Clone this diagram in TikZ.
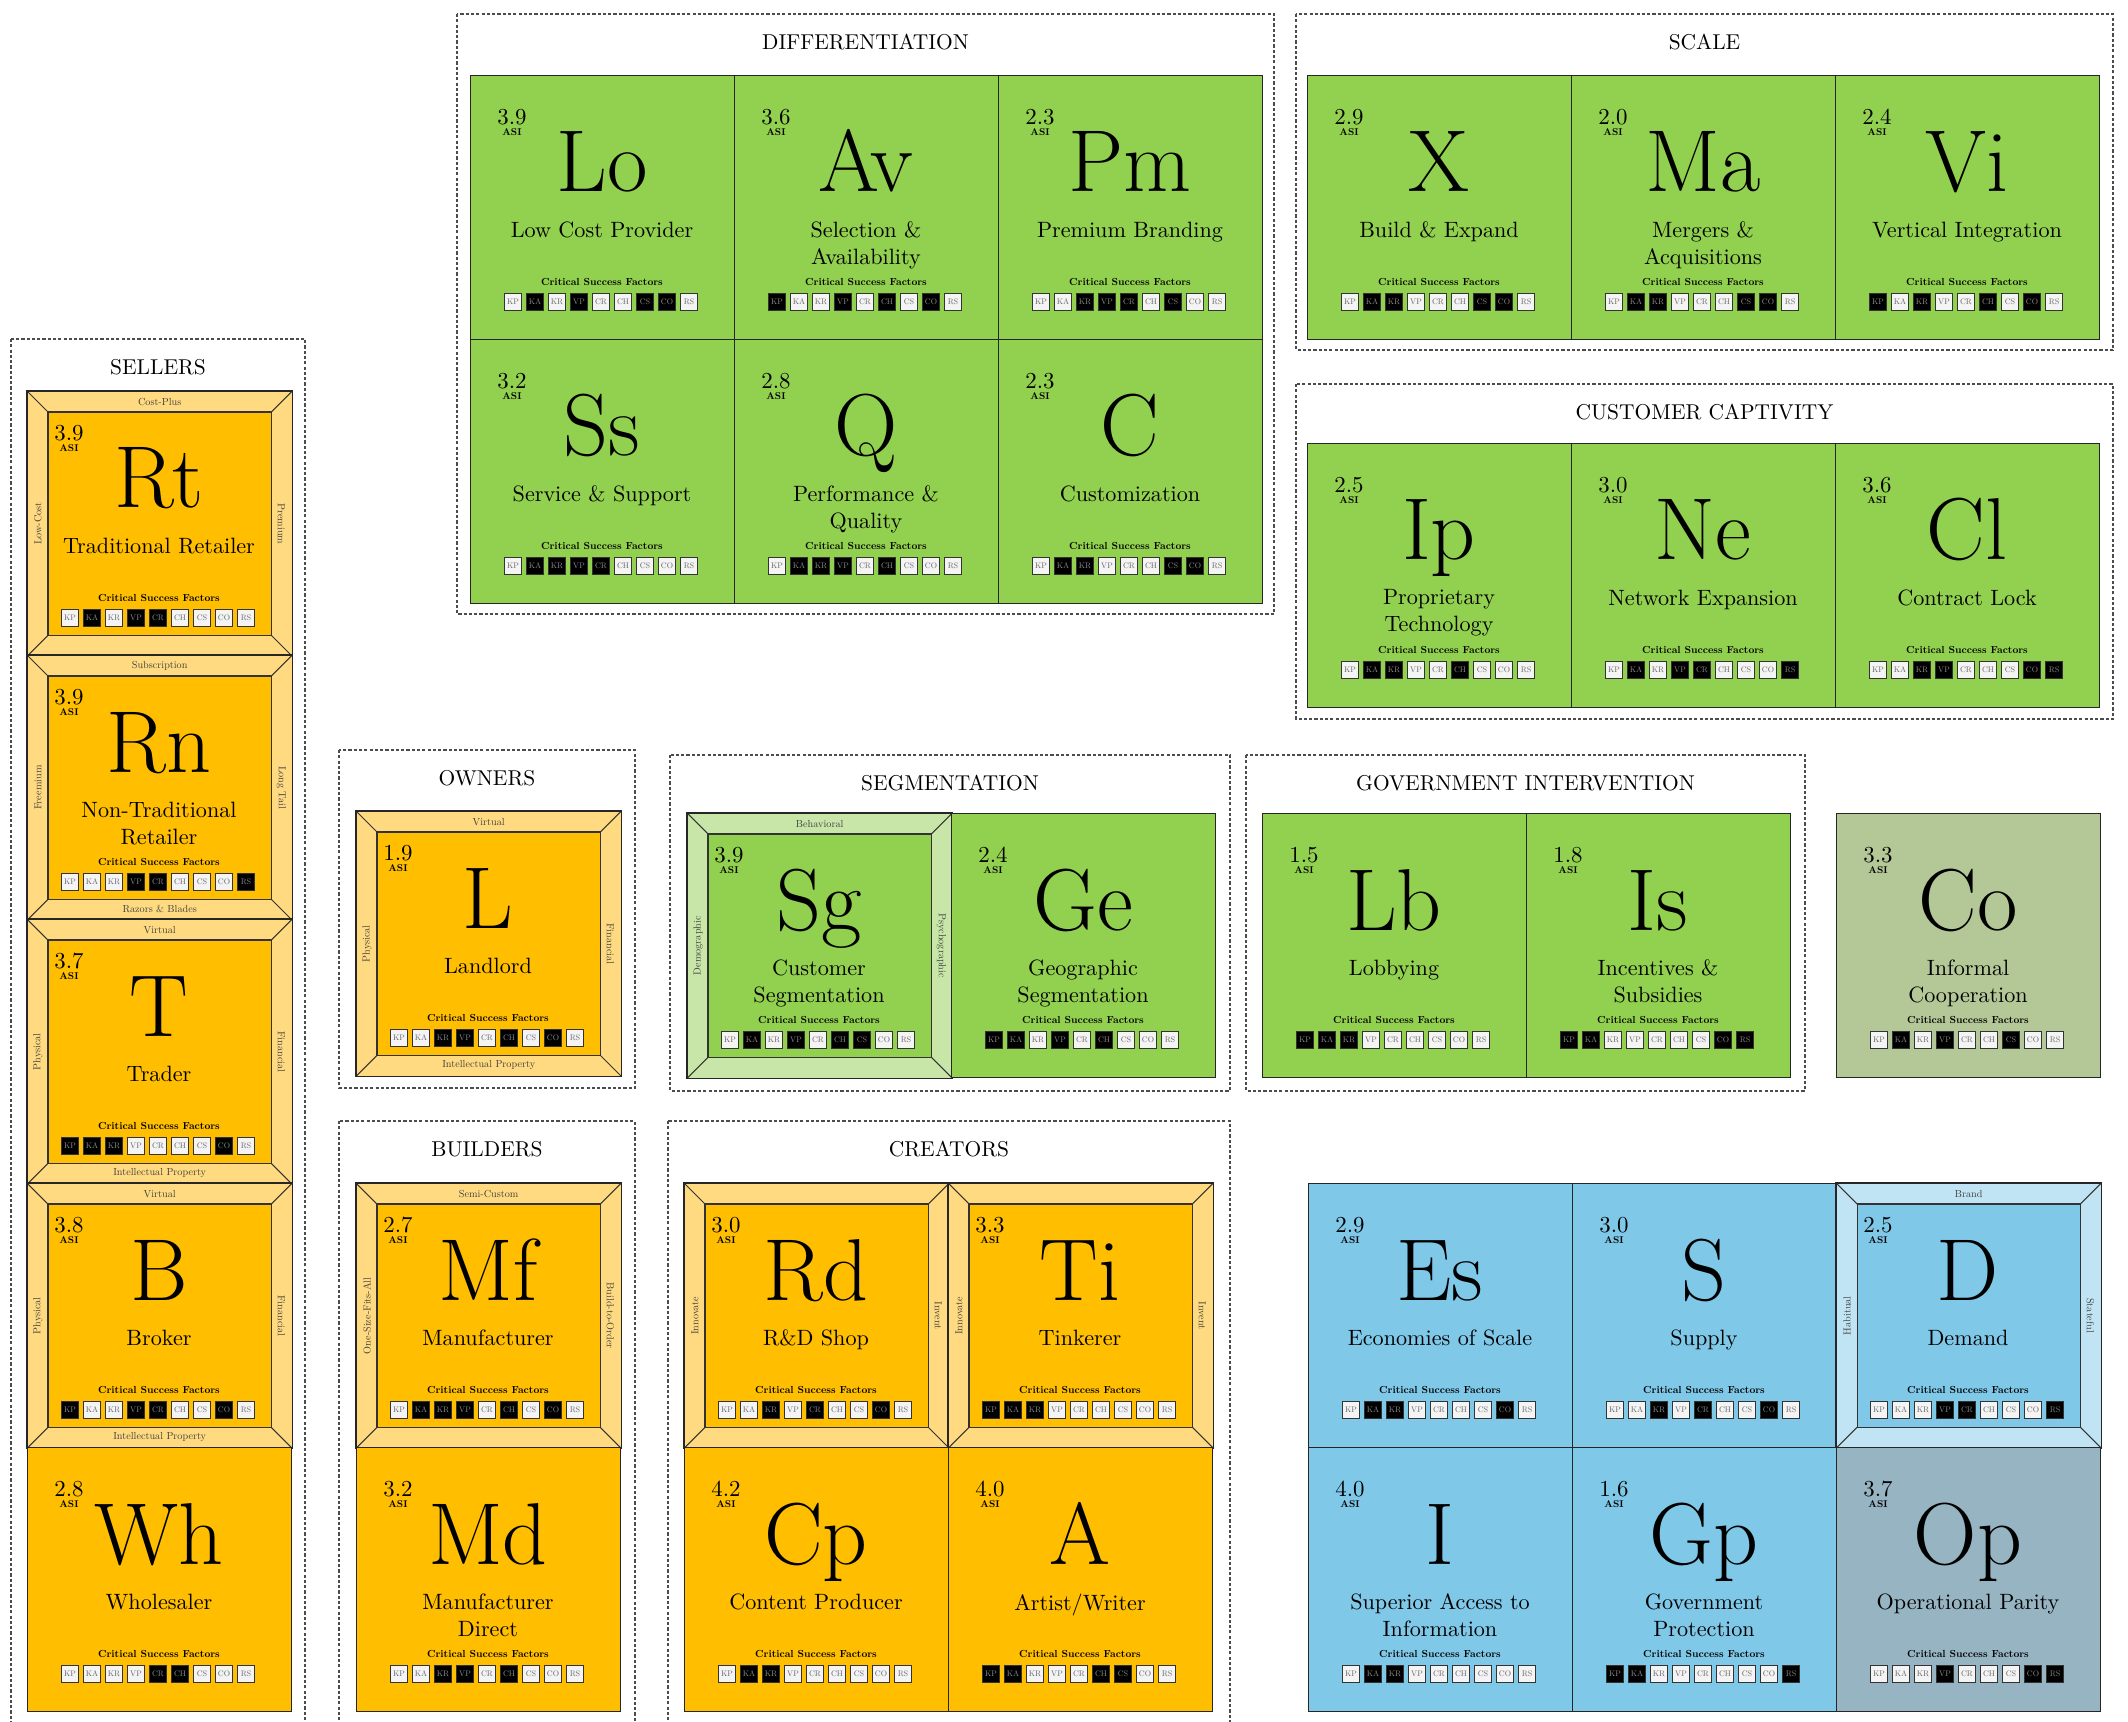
\documentclass[tikz,border=0pt]{standalone}
\usepackage{fontspec}
\setmainfont{lmroman10-regular.otf}[BoldFont=lmroman10-bold.otf]
\newfontfamily\symfont{lmroman17-regular.otf}
\usetikzlibrary{positioning}

\definecolor{amber}{HTML}{FFBE00}
\definecolor{amberlt}{HTML}{FFDA80}
\definecolor{leaf}{HTML}{92D050}
\definecolor{leaflt}{HTML}{C8E6A8}
\definecolor{sky}{HTML}{80C8E8}
\definecolor{skylt}{HTML}{C0E4F3}
\definecolor{sage}{HTML}{B3C797}
\definecolor{slate}{HTML}{97B4C2}
\definecolor{csfwhite}{HTML}{F4F4F4}

\tikzset{
  tilebox/.style={draw=black!85, line width=0.35pt, minimum size=2.64cm, inner sep=0pt, anchor=north west},
  asinum/.style={font=\fontsize{6.5}{7}\selectfont, inner sep=0pt},
  asilab/.style={font=\bfseries\fontsize{2.8}{3}\selectfont, inner sep=0pt},
  symb/.style={font=\symfont\fontsize{25}{25}\selectfont, inner sep=0pt, anchor=base},
  tname/.style={font=\fontsize{6.3}{7.7}\selectfont, inner sep=0pt, anchor=north, align=center},
  csflab/.style={font=\bfseries\fontsize{2.9}{3}\selectfont, inner sep=0pt},
  csfbox/.style={draw=black!80, line width=0.25pt, minimum size=0.17cm, inner sep=0pt, font=\fontsize{2.3}{2.5}\selectfont},
  framelab/.style={font=\fontsize{2.9}{3}\selectfont, text=black!75, inner sep=0pt},
  frameline/.style={draw=black!80, line width=0.3pt},
  grpline/.style={draw=black!70, dash pattern=on 0.9pt off 0.6pt, line width=0.7pt, fill=white},
  grptitle/.style={font=\fontsize{6.1}{7}\selectfont, inner sep=0pt},
}

% tile: symbol, x, y, colour, ASI, name, success factors
\newcommand\tile[7]{%
  \node[tilebox, fill=#4] (#1) at (#2,#3) {};
  \node[asinum] (#1-asi) at ([shift={(42,42)}]#1.north west) {#5};
  \node[asilab] (#1-asilab) at ([shift={(42,57)}]#1.north west) {ASI};
  \node[symb] (#1-sym) at ([shift={(132,117)}]#1.north west) {#1};
  \node[tname] (#1-name) at ([shift={(132,146)}]#1.north west) {#6};
  \node[csflab] (#1-csf) at ([shift={(132,207)}]#1.north west) {Critical Success Factors};
  \foreach \lab [count=\i] in {KP,KA,KR,VP,CR,CH,CS,CO,RS}{
    \pgfmathtruncatemacro\csfv{{#7}[\i-1]}
    \ifnum\csfv=1 \def\csffill{black}\def\csftext{black!45}\else\def\csffill{csfwhite}\def\csftext{black!60}\fi
    \node[csfbox, fill=\csffill, text=\csftext] (#1-\lab) at ([shift={({43+22*(\i-1)},227)}]#1.north west) {\lab};
  }
}

% frame round a tile: tile, colour, top, left, right, bottom
\newcommand\framing[6]{%
  \fill[#2, even odd rule] (#1.north west) rectangle (#1.south east)
    ([shift={(21,21)}]#1.north west) rectangle ([shift={(-21,-21)}]#1.south east);
  \draw[frameline] ([shift={(21,21)}]#1.north west) rectangle ([shift={(-21,-21)}]#1.south east);
  \draw[frameline] (#1.north west) -- ([shift={(21,21)}]#1.north west);
  \draw[frameline] (#1.north east) -- ([shift={(-21,21)}]#1.north east);
  \draw[frameline] (#1.south west) -- ([shift={(21,-21)}]#1.south west);
  \draw[frameline] (#1.south east) -- ([shift={(-21,-21)}]#1.south east);
  \draw[tilebox] (#1.north west) rectangle (#1.south east);
  \node[framelab] (#1-top) at ([shift={(0,11)}]#1.north) {#3};
  \node[framelab, rotate=90] (#1-left) at ([shift={(11,0)}]#1.west) {#4};
  \node[framelab, rotate=-90] (#1-right) at ([shift={(-11,0)}]#1.east) {#5};
  \node[framelab] (#1-bottom) at ([shift={(0,-11)}]#1.south) {#6};
}

% group: name, x1, y1, x2, y2, title
\newcommand\grp[6]{%
  \draw[grpline] (#2,#3) rectangle (#4,#5);
  \node[grptitle] (#1) at ({(#2+#4)/2},{#3+28}) {#6};
}

\begin{document}
\begin{tikzpicture}[x=0.01cm,y=-0.01cm]
\useasboundingbox (0,0) rectangle (2128,1722);

\grp{diff}{457}{14}{1274}{614}{DIFFERENTIATION}
\grp{scale}{1296}{14}{2113}{350}{SCALE}
\grp{capt}{1296}{384}{2113}{719}{CUSTOMER CAPTIVITY}
\grp{sell}{11}{339}{305}{1745}{SELLERS}
\grp{own}{339}{750}{635}{1088}{OWNERS}
\grp{build}{339}{1121}{635}{1745}{BUILDERS}
\grp{seg}{670}{755}{1230}{1091}{SEGMENTATION}
\grp{gov}{1246}{755}{1805}{1091}{GOVERNMENT INTERVENTION}
\grp{create}{668}{1121}{1230}{1745}{CREATORS}

\tile{Lo}{470}{75}{leaf}{3.9}{Low Cost Provider}{0,1,0,1,0,0,1,1,0}
\tile{Av}{734}{75}{leaf}{3.6}{Selection \&\\Availability}{1,0,0,1,0,1,0,1,0}
\tile{Pm}{998}{75}{leaf}{2.3}{Premium Branding}{0,0,1,1,1,0,1,0,0}
\tile{Ss}{470}{339}{leaf}{3.2}{Service \& Support}{0,1,1,1,1,0,0,0,0}
\tile{Q}{734}{339}{leaf}{2.8}{Performance \&\\Quality}{0,1,1,1,0,1,0,0,0}
\tile{C}{998}{339}{leaf}{2.3}{Customization}{0,1,1,0,0,0,1,1,0}

\tile{X}{1307}{75}{leaf}{2.9}{Build \& Expand}{0,1,1,0,0,0,1,1,0}
\tile{Ma}{1571}{75}{leaf}{2.0}{Mergers \&\\Acquisitions}{0,1,1,0,0,0,1,1,0}
\tile{Vi}{1835}{75}{leaf}{2.4}{Vertical Integration}{1,0,1,0,0,1,0,1,0}

\tile{Ip}{1307}{443}{leaf}{2.5}{Proprietary\\Technology}{0,1,1,0,0,1,0,0,0}
\tile{Ne}{1571}{443}{leaf}{3.0}{Network Expansion}{0,1,0,1,1,0,0,0,1}
\tile{Cl}{1835}{443}{leaf}{3.6}{Contract Lock}{0,0,1,1,0,0,0,1,1}

\tile{Rt}{27}{391}{amber}{3.9}{Traditional Retailer}{0,1,0,1,1,0,0,0,0}
\framing{Rt}{amberlt}{Cost-Plus}{Low-Cost}{Premium}{}
\tile{Rn}{27}{655}{amber}{3.9}{Non-Traditional\\Retailer}{0,0,0,1,1,0,0,0,1}
\framing{Rn}{amberlt}{Subscription}{Freemium}{Long Tail}{Razors \& Blades}
\tile{T}{27}{919}{amber}{3.7}{Trader}{1,1,1,0,0,0,0,1,0}
\framing{T}{amberlt}{Virtual}{Physical}{Financial}{Intellectual Property}
\tile{B}{27}{1183}{amber}{3.8}{Broker}{1,0,0,1,1,0,0,1,0}
\framing{B}{amberlt}{Virtual}{Physical}{Financial}{Intellectual Property}
\tile{Wh}{27}{1447}{amber}{2.8}{Wholesaler}{0,0,0,0,1,1,0,0,0}

\tile{L}{356}{811}{amber}{1.9}{Landlord}{0,0,1,1,0,1,0,1,0}
\framing{L}{amberlt}{Virtual}{Physical}{Financial}{Intellectual Property}

\tile{Mf}{356}{1183}{amber}{2.7}{Manufacturer}{0,1,1,1,0,1,0,1,0}
\framing{Mf}{amberlt}{Semi-Custom}{One-Size-Fits-All}{Build-to-Order}{}
\tile{Md}{356}{1447}{amber}{3.2}{Manufacturer\\Direct}{0,0,1,1,0,1,0,0,0}

\tile{Sg}{687}{813}{leaf}{3.9}{Customer\\Segmentation}{0,1,0,1,0,1,1,0,0}
\framing{Sg}{leaflt}{Behavioral}{Demographic}{Psychographic}{}
\tile{Ge}{951}{813}{leaf}{2.4}{Geographic\\Segmentation}{1,1,0,1,0,1,0,0,0}

\tile{Lb}{1262}{813}{leaf}{1.5}{Lobbying}{1,1,1,0,0,0,0,0,0}
\tile{Is}{1526}{813}{leaf}{1.8}{Incentives \&\\Subsidies}{1,1,0,0,0,0,0,1,1}
\tile{Co}{1836}{813}{sage}{3.3}{Informal\\Cooperation}{0,1,0,1,0,0,1,0,0}

\tile{Rd}{684}{1183}{amber}{3.0}{R\&D Shop}{0,0,1,0,1,0,0,1,0}
\framing{Rd}{amberlt}{}{Innovate}{Invent}{}
\tile{Ti}{948}{1183}{amber}{3.3}{Tinkerer}{1,1,1,0,0,0,0,0,0}
\framing{Ti}{amberlt}{}{Innovate}{Invent}{}
\tile{Cp}{684}{1447}{amber}{4.2}{Content Producer}{0,1,1,0,0,0,0,0,0}
\tile{A}{948}{1447}{amber}{4.0}{Artist/Writer}{1,1,0,0,0,1,1,0,0}

\tile{Es}{1308}{1183}{sky}{2.9}{Economies of Scale}{0,1,1,0,0,0,0,1,0}
\tile{S}{1572}{1183}{sky}{3.0}{Supply}{0,0,1,0,1,0,0,1,0}
\tile{D}{1836}{1183}{sky}{2.5}{Demand}{0,0,0,1,1,0,0,0,1}
\framing{D}{skylt}{Brand}{Habitual}{Stateful}{}
\tile{I}{1308}{1447}{sky}{4.0}{Superior Access to\\Information}{0,1,1,0,0,0,0,0,0}
\tile{Gp}{1572}{1447}{sky}{1.6}{Government\\Protection}{1,1,0,0,0,0,0,0,1}
\tile{Op}{1836}{1447}{slate}{3.7}{Operational Parity}{0,0,0,1,0,0,0,1,1}
\end{tikzpicture}
\end{document}
